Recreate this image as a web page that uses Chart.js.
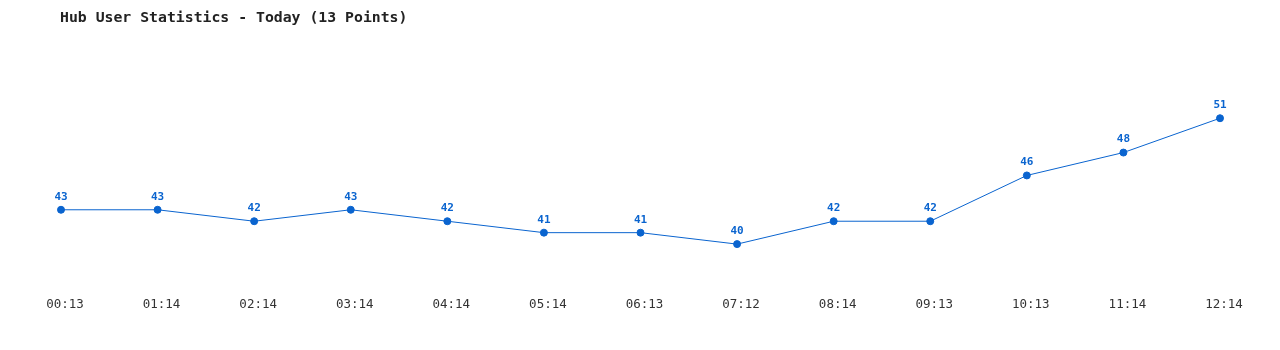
<!DOCTYPE html>
<html>
<head>
<meta charset="utf-8">
<script src="https://cdn.jsdelivr.net/npm/chart.js@4"></script>
<style>
  html, body { margin: 0; padding: 0; background: #fff; }
  #wrap { width: 1280px; height: 350px; }
</style>
</head>
<body>
<div id="wrap"><canvas id="hubChart"></canvas></div>
<script>
// ================= DATA =================
const chartTitle = "Hub User Statistics - Today (13 Points)";
const timeLabels = ["00:13", "01:14", "02:14", "03:14", "04:14", "05:14", "06:13",
                    "07:12", "08:14", "09:13", "10:13", "11:14", "12:14"];
const userCounts = [43, 43, 42, 43, 42, 41, 41, 40, 42, 42, 46, 48, 51];

const LINE_BLUE = "#0a64cf";
const MONO = "'DejaVu Sans Mono', 'Liberation Mono', monospace";

// ================= TITLE (left, fixed inset) =================
const leftTitle = {
    id: "leftTitle",
    afterDraw(chart) {
        const ctx = chart.ctx;
        ctx.save();
        ctx.font = "bold 14.8px " + MONO;
        ctx.fillStyle = "#222";
        ctx.textAlign = "left";
        ctx.textBaseline = "middle";
        ctx.fillText(chartTitle, 60, 18);
        ctx.restore();
    }
};

// ================= VALUE LABELS =================
const valueLabels = {
    id: "valueLabels",
    afterDatasetsDraw(chart) {
        const ctx = chart.ctx;
        const meta = chart.getDatasetMeta(0);
        ctx.save();
        ctx.font = "bold 11px " + MONO;
        ctx.fillStyle = LINE_BLUE;
        ctx.textAlign = "center";
        ctx.textBaseline = "middle";
        meta.data.forEach((pt, i) => {
            ctx.fillText(String(chart.data.datasets[0].data[i]), pt.x, pt.y - 13);
        });
        ctx.restore();
    }
};

// ================= CHART =================
new Chart(document.getElementById("hubChart"), {
    type: "line",
    data: {
        labels: timeLabels,
        datasets: [{
            label: "Users",
            data: userCounts,
            borderColor: LINE_BLUE,
            backgroundColor: LINE_BLUE,
            borderWidth: 1,
            pointRadius: 3.5,
            pointHoverRadius: 3.5,
            tension: 0
        }]
    },
    options: {
        responsive: true,
        maintainAspectRatio: false,
        animation: false,
        layout: { padding: { left: 61, right: 60, top: 61, bottom: 16 } },
        plugins: {
            legend: { display: false },
            tooltip: { enabled: false },
            title: { display: false }
        },
        scales: {
            x: {
                offset: false,
                grid: { display: false },
                border: { display: false },
                ticks: {
                    color: "#333",
                    font: { family: MONO, size: 12.5 },
                    padding: 22,
                    maxRotation: 0,
                    autoSkip: false,
                    labelOffset: 4
                }
            },
            y: {
                display: false,
                min: 38,
                max: 56
            }
        }
    },
    plugins: [valueLabels, leftTitle]
});
</script>
</body>
</html>
